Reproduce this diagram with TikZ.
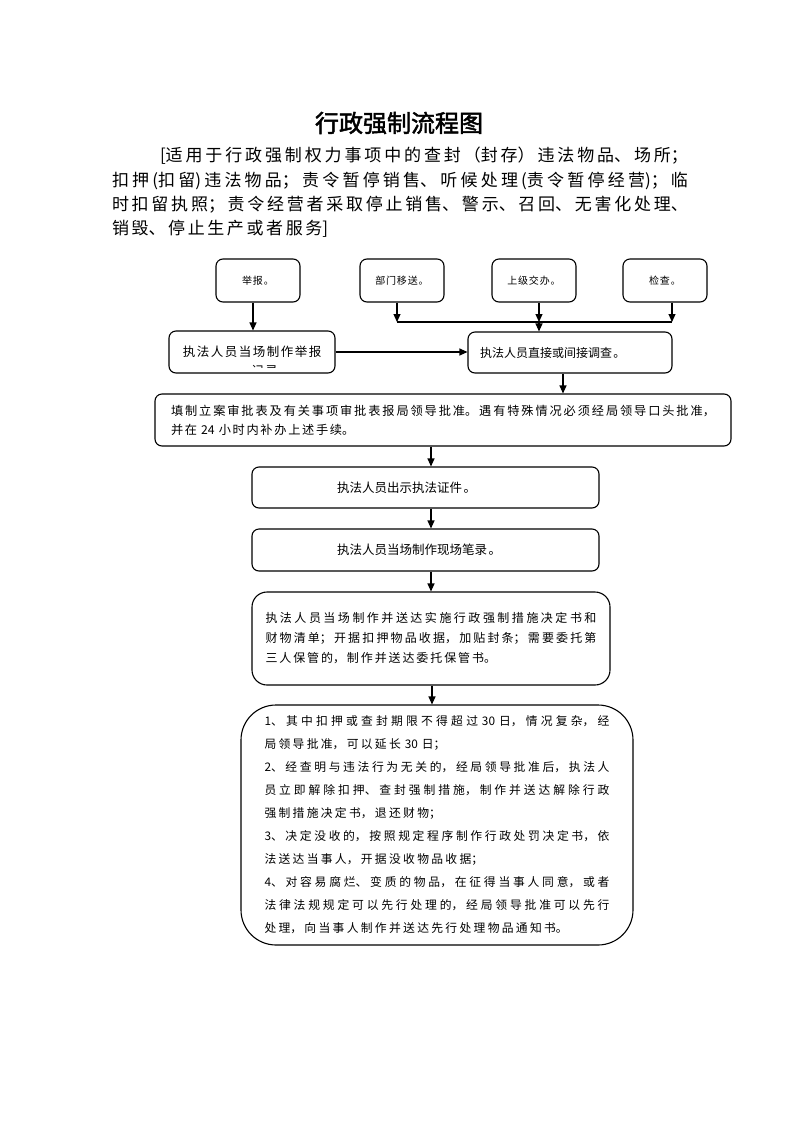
\documentclass[tikz,border=0pt]{standalone}
\usepackage{fontspec}
\setmainfont{Noto Sans CJK SC}[AutoFakeBold=2]
\usetikzlibrary{arrows.meta,calc}
\XeTeXlinebreaklocale "zh"
\XeTeXlinebreakskip=0pt\relax
\newcommand\jst[1]{\XeTeXlinebreakskip=#1 plus 1fil\relax\parfillskip=0pt plus 1fill\relax\leftskip=0pt\relax\rightskip=0pt\relax\parindent=0pt\relax}
\begin{document}
\begin{tikzpicture}[x=1pt,y=-1pt,
  box/.style={draw, line width=1.1pt, rounded corners=7pt, inner sep=0pt},
  arr/.style={line width=1.1pt, -{Triangle[length=8pt,width=7pt]}},
  ln/.style={line width=1.1pt},
  sm/.style={font=\fontsize{10}{12}\selectfont\addfontfeatures{LetterSpace=8}},
  mid/.style={font=\fontsize{12.5}{16}\selectfont\addfontfeatures{LetterSpace=12}},
]
\useasboundingbox (0,0) rectangle (793,1122);
\fill[white] (0,0) rectangle (793,1122);

\node (title) at (399,123) {\fontsize{24}{28}\selectfont\bfseries 行政强制流程图};
\node[text width=576pt, inner sep=0pt, font=\fontsize{17}{24.3}\selectfont] (sub) at (400,192.5)
 {\jst{2.6pt}\hspace*{48pt}[适用于行政强制权力事项中的查封（封存）违法物品、场所；\linebreak
 扣押(扣留)违法物品；责令暂停销售、听候处理(责令暂停经营)；临\linebreak
 时扣留执照；责令经营者采取停止销售、警示、召回、无害化处理、\linebreak
 销毁、停止生产或者服务]\par};

% top sources
\node[box, minimum width=84pt, minimum height=43pt, sm] (jb) at (258,280.5) {举报。};
\node[box, minimum width=84pt, minimum height=43pt, sm] (bm) at (402,280.5) {部门移送。};
\node[box, minimum width=84pt, minimum height=43pt, sm] (sj) at (534,280.5) {上级交办。};
\node[box, minimum width=84pt, minimum height=43pt, sm] (jc) at (665,280.5) {检查。};

% second row
\node[box, minimum width=166pt, minimum height=42pt, mid,
  path picture={
    \clip ($(path picture bounding box.center)+(-82,-20)$) rectangle ($(path picture bounding box.center)+(82,15)$);
    \node[draw=none, inner sep=0pt, anchor=west, font=\fontsize{12.5}{16}\selectfont\addfontfeatures{LetterSpace=12}]
      at ($(path picture bounding box.center)+(-71,19)$) {记录};
  }] (zz) at (252,352) {执法人员当场制作举报};
\node[box, text width=204pt, minimum height=41pt, align=left, font=\fontsize{12}{16}\selectfont\addfontfeatures{LetterSpace=11}] (dc) at (570,352.5) {\hspace*{12pt}执法人员直接或间接调查。};

% fill box
\node[box, text width=544pt, inner xsep=16pt, minimum height=52pt, font=\fontsize{12.2}{19}\selectfont] (tz) at (443,420)
 {\jst{1.7pt}填制立案审批表及有关事项审批表报局领导批准。遇有特殊情况必须经局领导口头批准，\linebreak
 并在 24 小时内补办上述手续。\par};

\node[box, text width=347pt, minimum height=41pt, align=left, mid] (cs) at (425.5,487.5) {\hspace*{85pt}执法人员出示执法证件。};
\node[box, text width=347pt, minimum height=42pt, align=left, mid] (bl) at (425.5,550) {\hspace*{85pt}执法人员当场制作现场笔录。};

\node[box, rounded corners=15pt, text width=331pt, inner xsep=13.5pt, minimum height=93pt, font=\fontsize{12}{20}\selectfont] (js) at (431,638.5)
 {\jst{1.9pt}执法人员当场制作并送达实施行政强制措施决定书和\linebreak
 财物清单；开据扣押物品收据，加贴封条；需要委托第\linebreak
 三人保管的，制作并送达委托保管书。\par\vspace*{11pt}};

\node[box, rounded corners=35pt, text width=345pt, inner xsep=23.5pt, minimum height=240pt, font=\fontsize{11.8}{23}\selectfont] (zh) at (437,825)
 {\jst{2.3pt}1、其中扣押或查封期限不得超过 30 日，情况复杂，经\linebreak
 局领导批准，可以延长 30 日；\par
 2、经查明与违法行为无关的，经局领导批准后，执法人\linebreak
 员立即解除扣押、查封强制措施，制作并送达解除行政\linebreak
 强制措施决定书，退还财物；\par
 3、决定没收的，按照规定程序制作行政处罚决定书，依\linebreak
 法送达当事人，开据没收物品收据；\par
 4、对容易腐烂、变质的物品，在征得当事人同意，或者\linebreak
 法律法规规定可以先行处理的，经局领导批准可以先行\linebreak
 处理，向当事人制作并送达先行处理物品通知书。\par};

% connectors
\coordinate (ja) at (253,0);
\coordinate (jl) at (397,322);
\coordinate (jm) at (539,322);
\coordinate (jr) at (672,322);
\coordinate (xb) at (563,0);
\coordinate (xc) at (431,0);
\coordinate (xd) at (432,0);

\draw[arr] (jb.south -| ja) -- (zz.north -| ja);
\draw[ln] (jl) -- (jr);
\draw[arr] (bm.south -| jl) -- (jl);
\draw[arr] (sj.south -| jm) -- (jm);
\draw[arr] (jc.south -| jr) -- (jr);
\draw[arr] (jm) -- (jm |- dc.north);
\draw[arr] (zz.east) -- (zz.east -| dc.west);
\draw[arr] (dc.south -| xb) -- (tz.north -| xb);
\draw[arr] (tz.south -| xc) -- (cs.north -| xc);
\draw[arr] (cs.south -| xc) -- (bl.north -| xc);
\draw[arr] (bl.south -| xc) -- (js.north -| xc);
\draw[arr] (js.south -| xd) -- (zh.north -| xd);
\end{tikzpicture}
\end{document}
